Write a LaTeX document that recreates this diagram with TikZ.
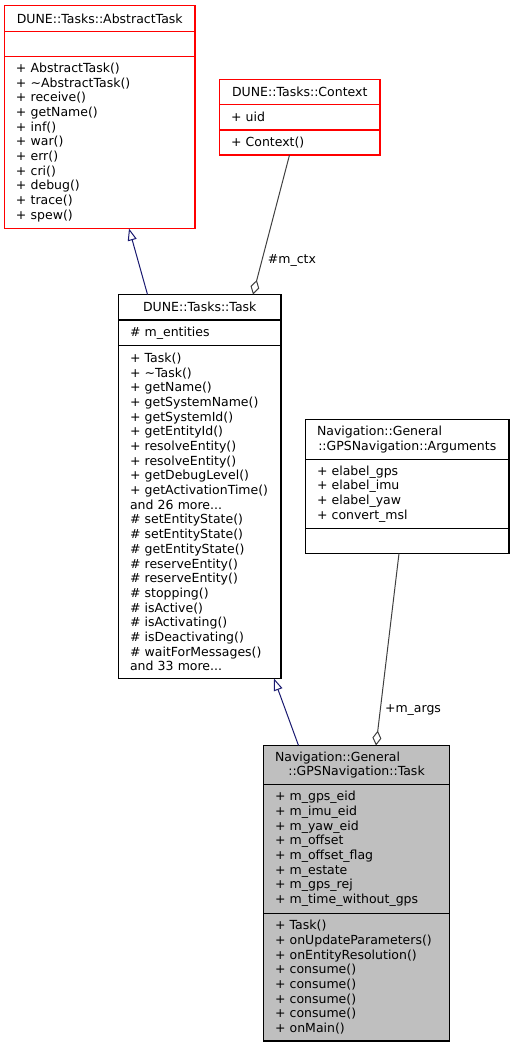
\documentclass[tikz,border=0pt]{standalone}
\usepackage{fontspec}
\setmainfont{DejaVu Sans}
\usetikzlibrary{arrows.meta}
\definecolor{inhblue}{HTML}{191970}
\definecolor{usegray}{HTML}{404040}
\definecolor{taskgray}{HTML}{BFBFBF}
\begin{document}
\begin{tikzpicture}[x=1pt,y=-1pt,
  part/.style={rectangle,draw,line width=1.1pt,anchor=north west,inner xsep=11.5pt,inner ysep=0pt,outer sep=0pt,font=\fontsize{12.5}{14.67}\selectfont},
  head/.style={part,align=center},
  body/.style={part,align=left},
  wd/.style={minimum width=#1,text width=#1-23pt},
  redbox/.style={draw=red},
  inherit/.style={draw=inhblue,line width=1pt,-{Triangle[open,length=12pt,width=9pt]}},
  uses/.style={draw=usegray,line width=1pt,-{Diamond[open,length=15pt,width=9pt]}},
  lbl/.style={font=\fontsize{12.5}{14.67}\selectfont}]
\useasboundingbox (0,0) rectangle (515,1048);
%
\node at (4.5,5.5) [head,redbox,wd=190.5pt,minimum height=26pt] (abstitle) {DUNE::Tasks::AbstractTask};
\node at (abstitle.south west) [body,redbox,wd=190.5pt,minimum height=25pt] (absattr) {};
\node at (absattr.south west) [body,redbox,wd=190.5pt,minimum height=172pt] (absmeth) {+ AbstractTask()\\+ \textasciitilde AbstractTask()\\+ receive()\\+ getName()\\+ inf()\\+ war()\\+ err()\\+ cri()\\+ debug()\\+ trace()\\+ spew()};
%
\node at (219.5,79.5) [head,redbox,wd=160.5pt,minimum height=25pt] (ctxtitle) {DUNE::Tasks::Context};
\node at (ctxtitle.south west) [body,redbox,wd=160.5pt,minimum height=25.5pt] (ctxattr) {+ uid};
\node at (ctxattr.south west) [body,redbox,wd=160.5pt,minimum height=25pt] (ctxmeth) {+ Context()};
%
\node at (118.5,294.5) [head,wd=162.5pt,minimum height=25.5pt] (tasktitle) {DUNE::Tasks::Task};
\node at (tasktitle.south west) [body,wd=162.5pt,minimum height=25.5pt] (taskattr) {\# m\_entities};
\node at (taskattr.south west) [body,wd=162.5pt,minimum height=333pt] (taskmeth) {+ Task()\\+ \textasciitilde Task()\\+ getName()\\+ getSystemName()\\+ getSystemId()\\+ getEntityId()\\+ resolveEntity()\\+ resolveEntity()\\+ getDebugLevel()\\+ getActivationTime()\\and 26 more...\\\# setEntityState()\\\# setEntityState()\\\# getEntityState()\\\# reserveEntity()\\\# reserveEntity()\\\# stopping()\\\# isActive()\\\# isActivating()\\\# isDeactivating()\\\# waitForMessages()\\and 33 more...};
%
\node at (305.5,419.5) [head,wd=203.5pt,minimum height=40pt] (argstitle) {\makebox[\linewidth][l]{Navigation::General}\\::GPSNavigation::Arguments};
\node at (argstitle.south west) [body,wd=203.5pt,minimum height=69pt] (argsattr) {+ elabel\_gps\\+ elabel\_imu\\+ elabel\_yaw\\+ convert\_msl};
\node at (argsattr.south west) [body,wd=203.5pt,minimum height=25pt] (argsmeth) {};
%
\node at (263.5,745.5) [head,fill=taskgray,wd=186pt,minimum height=39pt] (gpstitle) {\makebox[\linewidth][l]{Navigation::General}\\::GPSNavigation::Task};
\node at (gpstitle.south west) [body,fill=taskgray,wd=186pt,minimum height=129pt] (gpsattr) {+ m\_gps\_eid\\+ m\_imu\_eid\\+ m\_yaw\_eid\\+ m\_offset\\+ m\_offset\_flag\\+ m\_estate\\+ m\_gps\_rej\\+ m\_time\_without\_gps};
\node at (gpsattr.south west) [body,fill=taskgray,wd=186pt,minimum height=127.5pt] (gpsmeth) {+ Task()\\+ onUpdateParameters()\\+ onEntityResolution()\\+ consume()\\+ consume()\\+ consume()\\+ consume()\\+ onMain()};
%
\node at (292,260.5) [lbl] (ctxlabel) {\#m\_ctx};
\node at (413,710) [lbl] (argslabel) {+m\_args};
%
\draw[inherit] ([xshift=29pt]tasktitle.north west) -- ([xshift=124.5pt]absmeth.south west);
\draw[uses] ([xshift=70pt]ctxmeth.south west) -- ([xshift=134.5pt]tasktitle.north west);
\draw[inherit] ([xshift=35pt]gpstitle.north west) -- ([xshift=155.5pt]taskmeth.south west);
\draw[uses] ([xshift=93.5pt]argsmeth.south west) -- ([xshift=112.5pt]gpstitle.north west);
\end{tikzpicture}
\end{document}
